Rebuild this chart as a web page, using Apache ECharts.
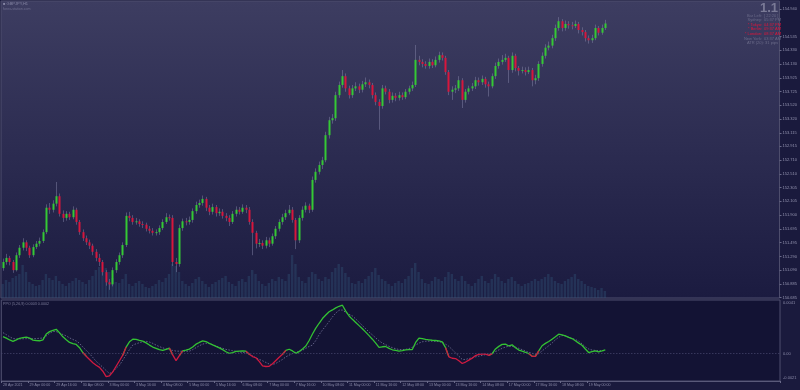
<!DOCTYPE html>
<html><head><meta charset="utf-8">
<script src="https://cdn.jsdelivr.net/npm/echarts@6/dist/echarts.min.js"></script>
<style>html,body{margin:0;padding:0;background:#1a1a3d;}#c{width:800px;height:390px;}</style>
</head><body><div id="c"></div>
<script>
// ---- data ----
const tickLabels = ["28 Apr 2021","29 Apr 00:00","29 Apr 16:00","30 Apr 08:00","3 May 00:00","3 May 16:00","4 May 08:00","5 May 00:00","5 May 16:00","6 May 08:00","7 May 00:00","7 May 16:00","10 May 08:00","11 May 00:00","11 May 16:00","12 May 08:00","13 May 00:00","13 May 16:00","14 May 08:00","17 May 00:00","17 May 16:00","18 May 08:00","19 May 00:00"];
const firstOpen = 151.12;
const closes = [151.21,151.27,151.21,151.09,151.31,151.42,151.50,151.42,151.31,151.43,
151.48,151.52,151.65,152.01,151.98,152.07,152.18,151.92,151.86,151.92,
151.87,151.98,151.80,151.65,151.56,151.50,151.45,151.36,151.27,151.21,
151.06,150.91,150.88,151.09,151.21,151.31,151.46,151.89,151.86,151.80,
151.81,151.77,151.76,151.70,151.67,151.64,151.65,151.71,151.80,151.87,
151.86,151.21,151.18,151.71,151.81,151.80,151.83,151.96,152.05,152.08,
152.14,152.01,151.95,152.02,151.93,151.95,151.89,151.86,151.80,151.92,
151.98,151.95,152.01,151.98,151.80,151.64,151.48,151.49,151.45,151.53,
151.48,151.59,151.70,151.80,151.87,151.93,151.98,151.83,151.53,151.86,
151.98,152.04,151.98,152.42,152.54,152.64,152.71,153.08,153.30,153.33,
153.67,153.82,153.95,153.77,153.67,153.77,153.80,153.75,153.83,153.86,
153.82,153.67,153.57,153.51,153.77,153.72,153.60,153.66,153.63,153.67,
153.64,153.72,153.77,153.82,154.19,154.16,154.13,154.10,154.16,154.11,
154.19,154.26,154.22,154.01,153.72,153.75,153.77,153.89,153.60,153.72,
153.77,153.80,153.89,153.86,153.91,153.83,153.80,153.95,154.10,154.16,
154.19,154.22,154.04,154.25,154.07,154.03,154.04,154.01,154.04,153.89,
153.92,154.13,154.25,154.37,154.40,154.51,154.66,154.76,154.66,154.72,
154.70,154.69,154.72,154.63,154.60,154.51,154.48,154.51,154.66,154.59,
154.66,154.727];
const highs = [151.26,151.33,151.30,151.24,151.35,151.46,151.56,151.53,151.45,151.47,
151.52,151.57,151.69,152.06,152.08,152.12,152.39,152.22,151.97,151.96,
151.95,152.03,152.01,151.83,151.69,151.60,151.54,151.48,151.40,151.33,
151.24,151.09,150.96,151.13,151.25,151.35,151.50,151.94,151.95,151.90,
151.86,151.84,151.81,151.79,151.74,151.71,151.69,151.75,151.84,151.93,
151.91,151.90,151.27,151.76,151.85,151.86,151.88,152.00,152.10,152.13,
152.19,152.17,152.05,152.07,152.05,152.00,151.99,151.93,151.90,151.96,
152.03,152.02,152.06,152.05,152.02,151.84,151.67,151.55,151.53,151.58,
151.57,151.63,151.74,151.84,151.92,151.98,152.05,152.02,151.86,151.90,
152.03,152.09,152.07,152.47,152.59,152.69,152.76,153.13,153.35,153.39,
153.72,153.87,154.04,153.99,153.81,153.82,153.86,153.84,153.88,153.93,
153.90,153.85,153.71,153.61,153.82,153.81,153.76,153.71,153.70,153.72,
153.71,153.76,153.81,153.87,154.41,154.25,154.20,154.17,154.21,154.20,
154.24,154.31,154.30,154.25,154.04,153.80,153.82,153.95,153.92,153.76,
153.81,153.85,153.94,153.93,153.96,153.94,153.87,153.99,154.15,154.21,
154.26,154.28,154.25,154.30,154.28,154.10,154.09,154.08,154.09,154.07,
153.97,154.17,154.30,154.42,154.46,154.56,154.71,154.82,154.79,154.77,
154.76,154.75,154.77,154.75,154.67,154.63,154.55,154.56,154.71,154.69,
154.71,154.78];
const lows = [151.08,151.17,151.16,151.05,151.07,151.27,151.38,151.37,151.27,151.28,
151.40,151.44,151.49,151.62,151.92,151.94,152.03,151.88,151.80,151.82,
151.83,151.84,151.76,151.61,151.52,151.46,151.40,151.31,151.22,151.15,
151.01,150.86,150.80,150.85,151.05,151.17,151.27,151.43,151.81,151.76,
151.76,151.73,151.71,151.66,151.63,151.60,151.60,151.61,151.68,151.77,
151.82,151.15,151.06,151.14,151.67,151.75,151.76,151.79,151.92,152.01,
152.04,151.96,151.90,151.91,151.88,151.89,151.85,151.81,151.74,151.77,
151.88,151.91,151.92,151.93,151.76,151.31,151.41,151.43,151.40,151.41,
151.43,151.45,151.55,151.66,151.76,151.83,151.90,151.79,151.40,151.49,
151.82,151.94,151.93,151.95,152.38,152.50,152.58,152.68,153.03,153.25,
153.29,153.63,153.78,153.72,153.62,153.63,153.73,153.70,153.71,153.79,
153.77,153.62,153.52,153.16,153.47,153.68,153.55,153.56,153.58,153.59,
153.60,153.61,153.68,153.73,153.79,154.11,154.08,154.06,154.06,154.07,
154.08,154.15,154.18,153.97,153.67,153.60,153.70,153.73,153.48,153.56,
153.68,153.73,153.76,153.81,153.82,153.78,153.65,153.77,153.91,154.06,
154.12,154.16,153.85,154.00,154.02,153.96,153.99,153.96,153.98,153.80,
153.83,153.88,154.09,154.21,154.33,154.36,154.47,154.62,154.61,154.62,
154.65,154.64,154.66,154.58,154.55,154.46,154.43,154.44,154.48,154.55,
154.56,154.63];
const volumes = [700,900,800,1000,1100,1200,1650,1300,800,700,600,650,
900,1200,1000,900,1100,850,700,600,750,850,1000,900,
800,700,900,1100,1400,1550,1300,1500,1300,1000,800,750,
950,1200,700,600,750,850,700,550,500,600,700,900,
800,1000,1200,1700,1600,1300,850,700,600,750,950,1050,
850,700,550,700,800,900,1000,1100,800,700,600,850,
950,800,1100,1400,1200,850,700,600,750,950,850,1050,
950,850,1200,2150,1700,1050,850,750,1050,1300,1200,950,
850,1050,950,1300,1500,1700,1550,1250,1050,750,700,850,
750,950,1100,1300,1500,1150,950,850,700,600,750,850,
750,950,1100,1500,1750,1300,950,750,700,850,1050,950,
850,1050,1300,1200,950,850,1100,850,700,600,750,950,
1100,850,750,950,1200,1050,850,750,950,1050,850,700,
600,700,750,850,950,850,950,1050,1200,1050,850,750,
700,850,950,1050,1200,950,850,700,600,550,500,400,
500,350];
const ppoMain = [0.00130,0.00118,0.00104,0.00094,0.00105,0.00117,0.00122,0.00126,0.00118,0.00103,
0.00100,0.00098,0.00105,0.00150,0.00168,0.00178,0.00186,0.00158,0.00128,0.00106,
0.00085,0.00076,0.00070,0.00045,0.00008,-0.00020,-0.00045,-0.00070,-0.00090,-0.00106,
-0.00135,-0.00177,-0.00170,-0.00140,-0.00097,-0.00055,-0.00012,0.00050,0.00090,0.00110,
0.00108,0.00101,0.00095,0.00082,0.00065,0.00050,0.00040,0.00030,0.00024,0.00032,
0.00042,-0.00010,-0.00054,-0.00015,0.00020,0.00026,0.00034,0.00050,0.00072,0.00085,
0.00097,0.00092,0.00078,0.00066,0.00055,0.00044,0.00030,0.00014,0.00002,0.00008,
0.00016,0.00019,0.00021,0.00018,-0.00005,-0.00023,-0.00032,-0.00060,-0.00094,-0.00099,
-0.00097,-0.00078,-0.00053,-0.00028,-0.00005,0.00025,0.00033,0.00020,0.00002,0.00015,
0.00035,0.00058,0.00100,0.00150,0.00195,0.00232,0.00268,0.00295,0.00320,0.00334,
0.00350,0.00362,0.00370,0.00325,0.00288,0.00262,0.00238,0.00214,0.00190,0.00164,
0.00137,0.00110,0.00080,0.00048,0.00052,0.00054,0.00040,0.00029,0.00024,0.00019,
0.00023,0.00029,0.00030,0.00031,0.00085,0.00118,0.00114,0.00108,0.00105,0.00102,
0.00100,0.00097,0.00090,0.00045,-0.00025,-0.00036,-0.00038,-0.00055,-0.00076,-0.00065,
-0.00050,-0.00035,-0.00015,-0.00007,-0.00004,-0.00005,-0.00014,0.00000,0.00035,0.00055,
0.00070,0.00072,0.00058,0.00067,0.00045,0.00027,0.00018,0.00010,0.00000,-0.00021,
-0.00021,0.00020,0.00060,0.00078,0.00092,0.00110,0.00128,0.00148,0.00143,0.00135,
0.00124,0.00115,0.00098,0.00080,0.00064,0.00035,0.00008,0.00015,0.00021,0.00013,
0.00020,0.00028];
const ppoSignal = [0.00160,0.00145,0.00128,0.00115,0.00112,0.00112,0.00113,0.00114,0.00114,0.00114,
0.00115,0.00117,0.00119,0.00135,0.00155,0.00170,0.00168,0.00158,0.00146,0.00135,
0.00120,0.00108,0.00097,0.00078,0.00050,0.00025,0.00000,-0.00030,-0.00060,-0.00082,
-0.00105,-0.00130,-0.00153,-0.00140,-0.00112,-0.00090,-0.00050,-0.00010,0.00030,0.00065,
0.00075,0.00083,0.00090,0.00094,0.00088,0.00078,0.00065,0.00053,0.00044,0.00036,
0.00030,0.00024,0.00019,0.00018,0.00018,0.00018,0.00018,0.00030,0.00045,0.00060,
0.00072,0.00080,0.00077,0.00068,0.00058,0.00048,0.00040,0.00032,0.00027,0.00022,
0.00017,0.00012,0.00009,0.00005,-0.00003,-0.00018,-0.00032,-0.00045,-0.00055,-0.00068,
-0.00080,-0.00085,-0.00075,-0.00060,-0.00045,-0.00025,-0.00012,0.00000,0.00010,0.00017,
0.00025,0.00040,0.00055,0.00065,0.00100,0.00145,0.00180,0.00212,0.00245,0.00280,
0.00310,0.00332,0.00333,0.00315,0.00300,0.00288,0.00265,0.00240,0.00215,0.00190,
0.00165,0.00143,0.00120,0.00098,0.00080,0.00068,0.00055,0.00045,0.00037,0.00031,
0.00030,0.00032,0.00038,0.00048,0.00065,0.00080,0.00090,0.00094,0.00095,0.00095,
0.00094,0.00092,0.00085,0.00072,0.00055,0.00030,0.00005,-0.00020,-0.00045,-0.00045,
-0.00038,-0.00032,-0.00025,-0.00020,-0.00014,-0.00008,-0.00003,0.00005,0.00015,0.00028,
0.00040,0.00050,0.00056,0.00055,0.00050,0.00040,0.00030,0.00020,0.00010,0.00002,
-0.00006,0.00000,0.00020,0.00040,0.00060,0.00080,0.00105,0.00125,0.00138,0.00135,
0.00125,0.00115,0.00108,0.00095,0.00075,0.00052,0.00035,0.00027,0.00024,0.00022,
0.00022,0.00022];
const priceTicks = [154.940,154.535,154.330,154.130,153.925,153.725,153.520,153.320,153.115,152.915,152.710,152.510,152.305,152.105,151.900,151.695,151.495,151.290,151.090,150.885,150.685];
const ppoTicks = [0.0041, 0, -0.0021];
const infoLabels = ["Bar Left:","Sydney:","* Tokyo:","* Berlin:","* London:","New York:"];
const infoValues = ["[ 22:20 ]","05:37 PM","04:37 PM","09:37 AM","08:37 AM","03:37 AM"];

// ---- build ----
const BARS_PER_TICK = 8;      // 2-hour bars, labels every 16 hours
const TOTAL_SLOTS = 234;      // chart width incl. empty right margin
const categories = [];
for (let i = 0; i < TOTAL_SLOTS; i++) {
  const k = i / BARS_PER_TICK;
  categories.push(i % BARS_PER_TICK === 0 && k < tickLabels.length ? tickLabels[k] : '');
}
const candleData = closes.map((c, i) => [i, i === 0 ? firstOpen : closes[i - 1], c, lows[i], highs[i]]);
// split the PPO line into above-zero (green) and below-zero (red) pieces
const ppoUp = ppoMain.map((v, i) => (v >= 0 || (ppoMain[i - 1] >= 0) || (ppoMain[i + 1] >= 0)) ? v : null);
const ppoDown = ppoMain.map((v, i) => (v < 0 || (ppoMain[i - 1] < 0) || (ppoMain[i + 1] < 0)) ? v : null);
const lastClose = closes[closes.length - 1];

const GREEN = '#35c935', RED = '#d8163c';
function renderCandle(params, api) {
  const x = api.value(0), o = api.value(1), c = api.value(2), l = api.value(3), h = api.value(4);
  const pO = api.coord([x, o]), pC = api.coord([x, c]), pH = api.coord([x, h]), pL = api.coord([x, l]);
  const band = api.size([1, 0])[0];
  const w = Math.max(1.5, band * 0.6);
  const cx = Math.round(pO[0]) + 0.5;
  const top = Math.min(pO[1], pC[1]), bot = Math.max(pO[1], pC[1]);
  return {type: 'group', children: [
    {type: 'line', shape: {x1: cx, y1: pH[1], x2: cx, y2: pL[1]}, style: {stroke: 'rgba(140,140,175,0.45)', lineWidth: 1}},
    {type: 'rect', shape: {x: cx - w / 2, y: top, width: w, height: Math.max(1, bot - top)}, style: {fill: c >= o ? GREEN : RED}}
  ]};
}

const graphics = [
  {type: 'text', x: 3, y: 4, style: {text: '\u25A0 GBPJPY,H1', fill: '#8686a4', font: '4px "Liberation Sans"', textVerticalAlign: 'middle'}},
  {type: 'text', x: 3, y: 8.5, style: {text: 'forex-station.com', fill: '#6e6e8e', font: '3.6px "Liberation Sans"', textVerticalAlign: 'middle'}},
  {type: 'text', x: 778, y: 8, style: {text: '1.1', fill: '#7a7a96', font: 'bold 13px "Liberation Sans"', textAlign: 'right', textVerticalAlign: 'middle'}},
  {type: 'text', x: 3, y: 303.5, style: {text: 'PPO (5,26,9) 0.0003 0.0002', fill: '#7c7c9a', font: '3.7px "Liberation Sans"', textVerticalAlign: 'middle'}},
  {type: 'text', x: 778, y: 43.3, style: {text: 'ATR (20): 31 pips', fill: '#6a6a88', font: '4px "Liberation Sans"', textAlign: 'right', textVerticalAlign: 'middle'}}
];
const infoY = [15.7, 20.1, 24.6, 29.1, 33.8, 38.6];
infoLabels.forEach((t, i) => {
  const col = t.charAt(0) === '*' ? '#e3153a' : '#6a6a88';
  graphics.push({type: 'text', x: 762, y: infoY[i], style: {text: t, fill: col, font: '4px "Liberation Sans"', textAlign: 'right', textVerticalAlign: 'middle'}});
  graphics.push({type: 'text', x: 764, y: infoY[i], style: {text: infoValues[i], fill: col, font: '4px "Liberation Sans"', textAlign: 'left', textVerticalAlign: 'middle'}});
});

const chart = echarts.init(document.getElementById('c'), null, {renderer: 'canvas'});
const showTick = (idx, val) => val !== '';
chart.setOption({
  animation: false,
  backgroundColor: '#1a1a3d',
  graphic: graphics,
  grid: [
    {left: 1, right: 20, top: 1, height: 297, show: true, borderColor: '#4f4f6e', borderWidth: 1,
     backgroundColor: new echarts.graphic.LinearGradient(0, 0, 0, 1, [{offset: 0, color: '#3d3d61'}, {offset: 0.5, color: '#2c2c51'}, {offset: 1, color: '#1b1b40'}])},
    {left: 1, right: 20, top: 300, height: 81, show: true, borderColor: '#4f4f6e', borderWidth: 1, backgroundColor: '#131334'}
  ],
  xAxis: [
    {type: 'category', gridIndex: 0, data: categories, boundaryGap: true, axisLine: {show: false, onZero: false}, axisTick: {show: false}, axisLabel: {show: false}, splitLine: {show: false}},
    {type: 'category', gridIndex: 1, data: categories, boundaryGap: true,
     axisLine: {show: true, onZero: false, lineStyle: {color: '#5a5a7a'}},
     axisTick: {show: true, interval: showTick, length: 2, lineStyle: {color: '#6a6a8a'}},
     axisLabel: {show: true, interval: showTick, align: 'left', margin: 2, color: '#8a8aa8', fontFamily: 'Liberation Sans', fontSize: 3.6},
     splitLine: {show: false}}
  ],
  yAxis: [
    {type: 'value', gridIndex: 0, position: 'right', min: 150.679, max: 155.058, splitLine: {show: false},
     axisLine: {show: false},
     axisTick: {show: true, customValues: priceTicks, length: 2, lineStyle: {color: '#6a6a8a'}},
     axisLabel: {show: true, customValues: priceTicks, formatter: v => v.toFixed(3), margin: 3, color: '#9494b0', fontFamily: 'Liberation Sans', fontSize: 4}},
    {type: 'value', gridIndex: 0, min: 0, max: 14850, show: false, splitLine: {show: false}},
    {type: 'value', gridIndex: 1, position: 'right', min: -0.0021, max: 0.0041, splitLine: {show: false},
     axisLine: {show: false},
     axisTick: {show: false},
     axisLabel: {show: true, customValues: ppoTicks, margin: 3, color: '#8a8aa8',
       formatter: v => v > 0 ? '{t|' + v.toFixed(4) + '}' : (v < 0 ? '{b|' + v.toFixed(4) + '}' : '{m|0.00}'),
       rich: {t: {fontSize: 4, fontFamily: 'Liberation Sans', color: '#8a8aa8', padding: [6, 0, 0, 0]},
              b: {fontSize: 4, fontFamily: 'Liberation Sans', color: '#8a8aa8', padding: [0, 0, 6, 0]},
              m: {fontSize: 4, fontFamily: 'Liberation Sans', color: '#8a8aa8'}}}}
  ],
  series: [
    {type: 'bar', name: 'Volume', xAxisIndex: 0, yAxisIndex: 1, data: volumes, barWidth: 2.4,
     itemStyle: {color: 'rgba(48,82,116,0.42)'}, silent: true, z: 1},
    {type: 'custom', name: 'Price', xAxisIndex: 0, yAxisIndex: 0, data: candleData,
     encode: {x: 0, y: [1, 2, 3, 4]}, renderItem: renderCandle, z: 3, silent: true},
    {type: 'line', name: 'Last', xAxisIndex: 0, yAxisIndex: 0, data: closes, silent: true, showSymbol: false,
     lineStyle: {opacity: 0}, z: 0,
     markLine: {silent: true, symbol: 'none', animation: false,
       lineStyle: {opacity: 0},
       label: {show: true, position: 'end', distance: 1, formatter: () => lastClose.toFixed(3),
         backgroundColor: '#c4c4d0', color: '#1c1c30', fontSize: 4, fontFamily: 'Liberation Sans', padding: [1, 2, 1, 2]},
       data: [{yAxis: lastClose}]}},
    {type: 'line', name: 'Signal', xAxisIndex: 1, yAxisIndex: 2, data: ppoSignal, showSymbol: false, silent: true,
     lineStyle: {color: 'rgba(130,130,168,0.7)', width: 1, type: [1.5, 1.5]}, z: 2,
     markLine: {silent: true, symbol: 'none', animation: false, label: {show: false},
       lineStyle: {color: '#4a4a70', width: 1, type: [1, 2]}, data: [{yAxis: 0}]}},
    {type: 'line', name: 'PPO up', xAxisIndex: 1, yAxisIndex: 2, data: ppoUp, showSymbol: false, silent: true,
     connectNulls: false, lineStyle: {width: 1.3, color: '#33c233'}, itemStyle: {color: '#33c233'}, z: 3},
    {type: 'line', name: 'PPO down', xAxisIndex: 1, yAxisIndex: 2, data: ppoDown, showSymbol: false, silent: true,
     connectNulls: false, lineStyle: {width: 1.3, color: '#cf1a40'}, itemStyle: {color: '#cf1a40'}, z: 4}
  ]
});
</script>
</body></html>
